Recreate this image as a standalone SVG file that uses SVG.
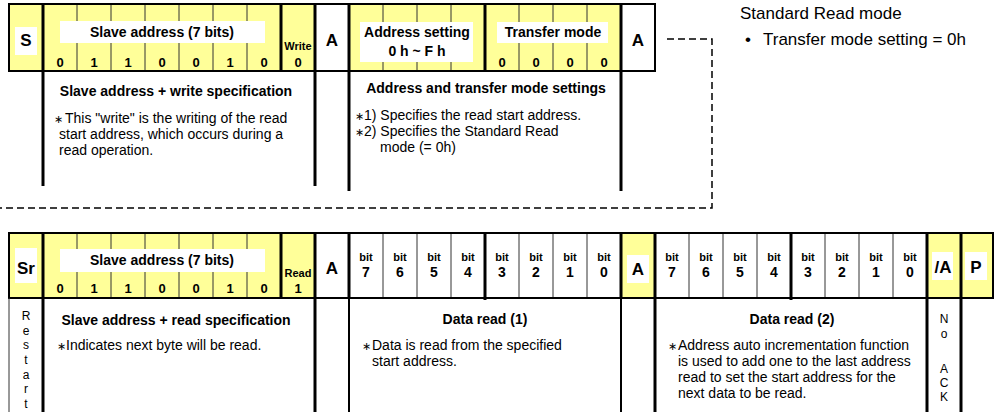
<svg xmlns="http://www.w3.org/2000/svg" width="994" height="412" viewBox="0 0 994 412">
<style>
text{font-family:"Liberation Sans",Arial,Helvetica,sans-serif;fill:#000}
.y{fill:#FFFF99}
.w{fill:#fff}
.frame{fill:none;stroke:#000;stroke-width:2}
.thk{stroke:#000;stroke-width:3}
.med{stroke:#000;stroke-width:2}
.thn{stroke:#333;stroke-width:1}
.big{font-size:17px;font-weight:bold;text-anchor:middle}
.lbl{font-size:14px;font-weight:bold;text-anchor:middle}
.dig{font-size:13px;font-weight:bold;text-anchor:middle}
.sm{font-size:11px;font-weight:bold;text-anchor:middle}
.bd{font-size:14px;font-weight:bold;text-anchor:middle}
.bn{font-size:14px}
.ast{font-size:11px}
.vt{font-size:12px;text-anchor:middle}
.note{font-size:17px}
.dash{fill:none;stroke:#000;stroke-width:1.5;stroke-dasharray:7 4}
</style>

<g id="connectors">
<path class="dash" d="M667,39 H712 V208 H0"/>
</g>

<g id="write-frame">
<rect class="y" x="9" y="4" width="306" height="67"/>
<rect class="w" x="315" y="4" width="34" height="67"/>
<rect class="y" x="349" y="4" width="272" height="67"/>
<rect class="w" x="621" y="4" width="34" height="67"/>
<g class="thn">
<line x1="77" y1="4" x2="77" y2="71"/><line x1="111" y1="4" x2="111" y2="71"/><line x1="145" y1="4" x2="145" y2="71"/>
<line x1="179" y1="4" x2="179" y2="71"/><line x1="213" y1="4" x2="213" y2="71"/><line x1="247" y1="4" x2="247" y2="71"/>
<line x1="383" y1="4" x2="383" y2="71"/><line x1="417" y1="4" x2="417" y2="71"/><line x1="451" y1="4" x2="451" y2="71"/>
<line x1="519" y1="4" x2="519" y2="71"/><line x1="553" y1="4" x2="553" y2="71"/><line x1="587" y1="4" x2="587" y2="71"/>
</g>
<rect class="w" x="15" y="27" width="22" height="28"/>
<rect class="w" x="60" y="21" width="205" height="22"/>
<rect class="w" x="360" y="22" width="113" height="40"/>
<rect class="w" x="497" y="22" width="111" height="21"/>
<g class="thk">
<line x1="43" y1="4" x2="43" y2="71"/><line x1="281" y1="4" x2="281" y2="71"/><line x1="315" y1="4" x2="315" y2="71"/>
<line x1="349" y1="4" x2="349" y2="71"/><line x1="485" y1="4" x2="485" y2="71"/><line x1="621" y1="4" x2="621" y2="71"/>
</g>
<rect class="frame" x="9" y="4" width="646" height="67"/>
<text class="big" x="26" y="46">S</text>
<text class="lbl" x="162" y="37">Slave address (7 bits)</text>
<text class="dig" x="60" y="67">0</text><text class="dig" x="94" y="67">1</text><text class="dig" x="128" y="67">1</text>
<text class="dig" x="162" y="67">0</text><text class="dig" x="196" y="67">0</text><text class="dig" x="230" y="67">1</text><text class="dig" x="264" y="67">0</text>
<text class="sm" x="298" y="50">Write</text>
<text class="dig" x="298" y="67">0</text>
<text class="big" x="332" y="46">A</text>
<text class="lbl" x="417" y="37">Address setting</text>
<text class="lbl" x="417" y="56">0 h ~ F h</text>
<text class="lbl" x="553" y="37">Transfer mode</text>
<text class="dig" x="502" y="67">0</text><text class="dig" x="536" y="67">0</text><text class="dig" x="570" y="67">0</text><text class="dig" x="604" y="67">0</text>
<text class="big" x="638" y="46">A</text>
</g>

<g id="desc-write">
<line class="thk" x1="43" y1="71" x2="43" y2="186"/>
<line class="thk" x1="315" y1="71" x2="315" y2="186"/>
<text class="bd" x="176" y="96">Slave address + write specification</text>
<text class="bn" x="54" y="123"><tspan class="ast">∗</tspan><tspan x="65">This "write" is the writing of the read</tspan></text>
<text class="bn" x="59" y="139">start address, which occurs during a</text>
<text class="bn" x="59" y="155">read operation.</text>
</g>

<g id="desc-address">
<line class="thk" x1="349" y1="71" x2="349" y2="191"/>
<line class="thk" x1="621" y1="71" x2="621" y2="191"/>
<text class="bd" x="486" y="93">Address and transfer mode settings</text>
<text class="bn" x="355" y="120"><tspan class="ast">∗</tspan>1) Specifies the read start address.</text>
<text class="bn" x="355" y="136"><tspan class="ast">∗</tspan>2) Specifies the Standard Read</text>
<text class="bn" x="380" y="152">mode (= 0h)</text>
</g>

<g id="mode-note">
<text class="note" x="740" y="19">Standard Read mode</text>
<text class="note" x="745" y="45">•</text>
<text class="note" x="763" y="45">Transfer mode setting = 0h</text>
</g>

<g id="read-frame">
<rect class="y" x="9" y="233" width="306" height="65"/>
<rect class="w" x="315" y="233" width="306" height="65"/>
<rect class="y" x="621" y="233" width="34" height="65"/>
<rect class="w" x="655" y="233" width="272" height="65"/>
<rect class="y" x="927" y="233" width="66" height="65"/>
<g class="thn">
<line x1="77" y1="233" x2="77" y2="298"/><line x1="111" y1="233" x2="111" y2="298"/><line x1="145" y1="233" x2="145" y2="298"/>
<line x1="179" y1="233" x2="179" y2="298"/><line x1="213" y1="233" x2="213" y2="298"/><line x1="247" y1="233" x2="247" y2="298"/>
<line x1="383" y1="233" x2="383" y2="298"/><line x1="417" y1="233" x2="417" y2="298"/><line x1="451" y1="233" x2="451" y2="298"/>
<line x1="519" y1="233" x2="519" y2="298"/><line x1="553" y1="233" x2="553" y2="298"/><line x1="587" y1="233" x2="587" y2="298"/>
<line x1="689" y1="233" x2="689" y2="298"/><line x1="723" y1="233" x2="723" y2="298"/><line x1="757" y1="233" x2="757" y2="298"/>
<line x1="825" y1="233" x2="825" y2="298"/><line x1="859" y1="233" x2="859" y2="298"/><line x1="893" y1="233" x2="893" y2="298"/>
</g>
<rect class="w" x="15" y="248" width="22" height="35"/>
<rect class="w" x="60" y="249" width="205" height="23"/>
<rect class="w" x="627" y="255" width="22" height="28"/>
<rect class="w" x="932" y="252" width="21" height="28"/>
<rect class="w" x="965" y="252" width="22" height="28"/>
<g class="thk">
<line x1="43" y1="233" x2="43" y2="298"/><line x1="281" y1="233" x2="281" y2="298"/><line x1="315" y1="233" x2="315" y2="298"/>
<line x1="349" y1="233" x2="349" y2="298"/><line x1="485" y1="233" x2="485" y2="300"/><line x1="621" y1="233" x2="621" y2="298"/>
<line x1="655" y1="233" x2="655" y2="298"/><line x1="791" y1="233" x2="791" y2="300"/><line x1="927" y1="233" x2="927" y2="298"/>
<line x1="961" y1="233" x2="961" y2="298"/>
</g>
<rect class="frame" x="9" y="233" width="984" height="65"/>
<text class="big" x="26" y="274">Sr</text>
<text class="lbl" x="162" y="265">Slave address (7 bits)</text>
<text class="dig" x="60" y="293">0</text><text class="dig" x="94" y="293">1</text><text class="dig" x="128" y="293">1</text>
<text class="dig" x="162" y="293">0</text><text class="dig" x="196" y="293">0</text><text class="dig" x="230" y="293">1</text><text class="dig" x="264" y="293">0</text>
<text class="sm" x="298" y="277">Read</text>
<text class="dig" x="298" y="293">1</text>
<text class="big" x="332" y="274">A</text>
<g class="sm">
<text x="366" y="261">bit</text><text x="400" y="261">bit</text><text x="434" y="261">bit</text><text x="468" y="261">bit</text>
<text x="502" y="261">bit</text><text x="536" y="261">bit</text><text x="570" y="261">bit</text><text x="604" y="261">bit</text>
<text x="672" y="261">bit</text><text x="706" y="261">bit</text><text x="740" y="261">bit</text><text x="774" y="261">bit</text>
<text x="808" y="261">bit</text><text x="842" y="261">bit</text><text x="876" y="261">bit</text><text x="910" y="261">bit</text>
</g>
<g class="bd">
<text x="366" y="277">7</text><text x="400" y="277">6</text><text x="434" y="277">5</text><text x="468" y="277">4</text>
<text x="502" y="277">3</text><text x="536" y="277">2</text><text x="570" y="277">1</text><text x="604" y="277">0</text>
<text x="672" y="277">7</text><text x="706" y="277">6</text><text x="740" y="277">5</text><text x="774" y="277">4</text>
<text x="808" y="277">3</text><text x="842" y="277">2</text><text x="876" y="277">1</text><text x="910" y="277">0</text>
</g>
<text class="big" x="638" y="275">A</text>
<text class="big" x="943" y="273">/A</text>
<text class="big" x="976" y="273">P</text>
</g>

<g id="desc-restart">
<line class="thn" x1="9" y1="298" x2="9" y2="412"/>
<text class="vt" x="26" y="320">R</text><text class="vt" x="26" y="335">e</text><text class="vt" x="26" y="349">s</text>
<text class="vt" x="26" y="364">t</text><text class="vt" x="26" y="379">a</text><text class="vt" x="26" y="393">r</text><text class="vt" x="26" y="408">t</text>
</g>

<g id="desc-read-spec">
<line class="thk" x1="43" y1="298" x2="43" y2="412"/>
<line class="thk" x1="315" y1="298" x2="315" y2="412"/>
<text class="bd" x="176" y="325">Slave address + read specification</text>
<text class="bn" x="57" y="350"><tspan class="ast">∗</tspan><tspan x="66">Indicates next byte will be read.</tspan></text>
</g>

<g id="desc-ack">
<line class="med" x1="349" y1="298" x2="349" y2="412"/>
</g>

<g id="desc-data1">
<line class="med" x1="621" y1="298" x2="621" y2="412"/>
<text class="bd" x="485" y="324">Data read (1)</text>
<text class="bn" x="362" y="350"><tspan class="ast">∗</tspan><tspan x="372">Data is read from the specified</tspan></text>
<text class="bn" x="372" y="366">start address.</text>
</g>

<g id="desc-data2">
<line class="thk" x1="655" y1="298" x2="655" y2="412"/>
<line class="thk" x1="927" y1="298" x2="927" y2="412"/>
<text class="bd" x="792" y="324">Data read (2)</text>
<text class="bn" x="668" y="350"><tspan class="ast">∗</tspan><tspan x="678">Address auto incrementation function</tspan></text>
<text class="bn" x="678" y="366">is used to add one to the last address</text>
<text class="bn" x="678" y="382">read to set the start address for the</text>
<text class="bn" x="678" y="398">next data to be read.</text>
</g>

<g id="desc-noack">
<line class="thk" x1="961" y1="298" x2="961" y2="412"/>
<text class="vt" x="944" y="323">N</text><text class="vt" x="944" y="338">o</text>
<text class="vt" x="944" y="373">A</text><text class="vt" x="944" y="387">C</text><text class="vt" x="944" y="401">K</text>
</g>
</svg>
